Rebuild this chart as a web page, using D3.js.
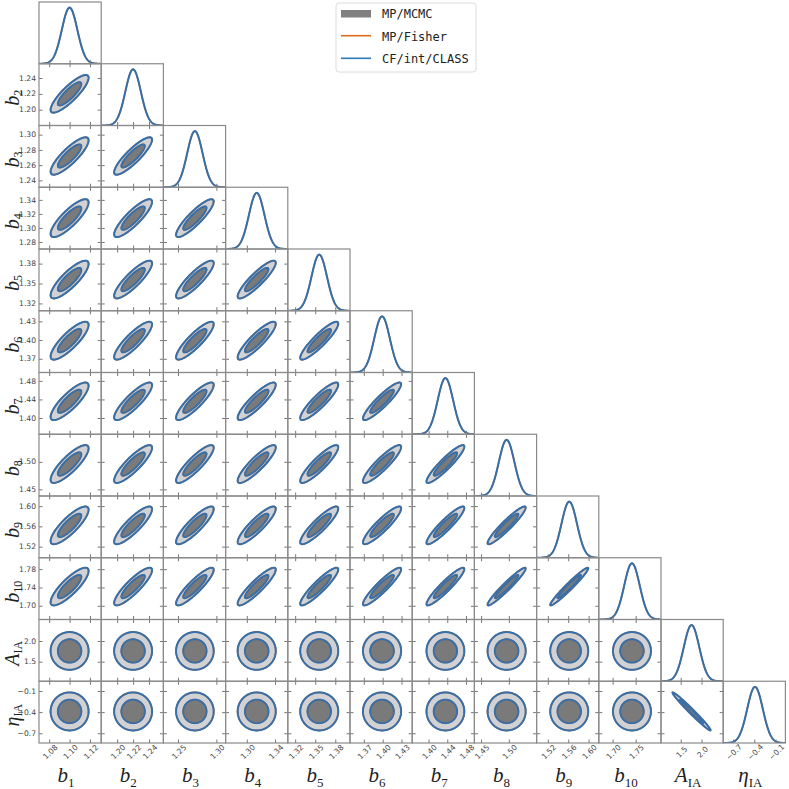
<!DOCTYPE html>
<html>
<head>
<meta charset="utf-8">
<script src="https://cdn.jsdelivr.net/npm/d3@7"></script>
<style>
  body { margin: 0; background: #fff; }
</style>
</head>
<body>
<div id="chart"></div>
<script>
// parameter names (symbol + subscript)
var symbols = ["b","b","b","b","b","b","b","b","b","b","A","\u03b7"]
var subs = ["1","2","3","4","5","6","7","8","9","10","IA","IA"]

// axis limits, means and 1-sigma widths
var lows  = [1.070, 1.180, 1.231, 1.270, 1.309, 1.348, 1.365, 1.438, 1.498, 1.670, 1.028, -0.838]
var highs = [1.131, 1.258, 1.312, 1.358, 1.402, 1.447, 1.498, 1.550, 1.620, 1.805, 2.519, 0.038]
var means = [1.100, 1.220, 1.272, 1.314, 1.356, 1.399, 1.436, 1.496, 1.562, 1.742, 1.760, -0.390]
var sigmas = [0.0076, 0.0097, 0.0100, 0.0110, 0.0116, 0.0124, 0.0165, 0.0140, 0.0152, 0.0168, 0.186, 0.110]

// tick values
var xTicks = [[1.08,1.10,1.12],[1.20,1.22,1.24],[1.25,1.30],[1.30,1.34],[1.32,1.35,1.38],
  [1.37,1.40,1.43],[1.40,1.44,1.48],[1.45,1.50],[1.52,1.56,1.60],[1.70,1.75],[1.5,2.0],[-0.7,-0.4,-0.1]]
var yTicks = [[],[1.20,1.22,1.24],[1.24,1.26,1.28,1.30],[1.28,1.30,1.32,1.34],[1.32,1.35,1.38],
  [1.37,1.40,1.43],[1.40,1.44,1.48],[1.45,1.50],[1.52,1.56,1.60],[1.70,1.74,1.78],[1.5,2.0],[-0.7,-0.4,-0.1]]
var tickFormats = [".2f",".2f",".2f",".2f",".2f",".2f",".2f",".2f",".2f",".2f",".1f",".1f"]

// correlations between the bias parameters (lower triangle, row j vs b1..b_{j-1})
var corrB = [
  [0.85],
  [0.84, 0.87],
  [0.83, 0.86, 0.88],
  [0.83, 0.86, 0.87, 0.89],
  [0.83, 0.86, 0.87, 0.88, 0.90],
  [0.83, 0.86, 0.87, 0.88, 0.89, 0.91],
  [0.83, 0.86, 0.87, 0.88, 0.89, 0.90, 0.92],
  [0.83, 0.86, 0.87, 0.88, 0.89, 0.90, 0.92, 0.94],
  [0.83, 0.87, 0.89, 0.90, 0.91, 0.92, 0.93, 0.96, 0.97]
]
var corrIA = -0.985

var legendLabels = ["MP/MCMC", "MP/Fisher", "CF/int/CLASS"]

var n = symbols.length
var marginLeft = 39, marginTop = 2, pw = 62.2, ph = 61.75
var blue = "#3670aa", orange = "#e0691b"
var lightGray = "#d2d2d4", darkGray = "#7a7a7a"
var levels = [2.45, 1.51]

function corr(i, j){
  var a = Math.max(i, j), b = Math.min(i, j)
  if(a < 10) return corrB[a-1][b]
  if(a == 11 && b == 10) return corrIA
  return 0
}

var svg = d3.select("#chart")
  .append("svg")
  .attr("width", 789)
  .attr("height", 789)

var defs = svg.append("defs")

function ellipsePoints(c, r, rad){
  var rho = corr(c, r)
  return d3.range(0, 121).map(function(k){
    var t = k / 120 * 2 * Math.PI
    return [means[c] + rad * sigmas[c] * Math.cos(t),
            means[r] + rad * sigmas[r] * (rho * Math.cos(t) + Math.sqrt(1 - rho*rho) * Math.sin(t))]
  })
}

var tickStyle = function(a){ a.select(".domain").remove(); a.selectAll("line").attr("stroke", "#777") }

for(var r = 0; r < n; r++){
  for(var c = 0; c <= r; c++){
    var g = svg.append("g")
      .attr("transform", "translate(" + (marginLeft + c*pw) + "," + (marginTop + r*ph) + ")")

    var x = d3.scaleLinear().domain([lows[c], highs[c]]).range([0, pw])
    var clipId = "clip" + r + "_" + c
    defs.append("clipPath").attr("id", clipId)
      .append("rect").attr("width", pw).attr("height", ph)
    var body = g.append("g").attr("clip-path", "url(#" + clipId + ")")

    if(c == r){
      // 1D marginal
      var y1 = d3.scaleLinear().domain([0, 1.1]).range([ph, 0])
      var xs = d3.range(0, 201).map(function(k){ return lows[c] + (highs[c]-lows[c]) * k / 200 })
      var line1 = d3.line()
        .x(function(v){ return x(v) })
        .y(function(v){ var z = (v - means[c]) / sigmas[c]; return y1(Math.exp(-0.5*z*z)) })
      body.append("path").attr("d", line1(xs))
        .attr("fill", "none").attr("stroke", orange).attr("stroke-width", 1.6)
      body.append("path").attr("d", line1(xs))
        .attr("fill", "none").attr("stroke", blue).attr("stroke-width", 2)

      g.append("g")
        .attr("transform", "translate(0," + ph + ")")
        .call(d3.axisBottom(x).tickValues(xTicks[c]).tickSize(-3.5).tickFormat(""))
        .call(tickStyle)
    } else {
      var y = d3.scaleLinear().domain([lows[r], highs[r]]).range([ph, 0])
      var line2 = d3.line()
        .x(function(p){ return x(p[0]) })
        .y(function(p){ return y(p[1]) })
        .curve(d3.curveLinearClosed)

      // MCMC filled contours
      body.append("path").attr("d", line2(ellipsePoints(c, r, levels[0]*1.04))).attr("fill", lightGray)
      body.append("path").attr("d", line2(ellipsePoints(c, r, levels[1]*1.04))).attr("fill", darkGray)
      // Fisher and CLASS line contours
      levels.forEach(function(lv){
        body.append("path").attr("d", line2(ellipsePoints(c, r, lv)))
          .attr("fill", "none").attr("stroke", orange).attr("stroke-width", 1.6)
        body.append("path").attr("d", line2(ellipsePoints(c, r, lv)))
          .attr("fill", "none").attr("stroke", blue).attr("stroke-width", 2)
      })

      g.append("g").attr("transform", "translate(0," + ph + ")")
        .call(d3.axisBottom(x).tickValues(xTicks[c]).tickSize(-3.5).tickFormat("")).call(tickStyle)
      g.append("g")
        .call(d3.axisTop(x).tickValues(xTicks[c]).tickSize(-3.5).tickFormat("")).call(tickStyle)
      g.append("g")
        .call(d3.axisLeft(y).tickValues(yTicks[r]).tickSize(-3.5).tickFormat("")).call(tickStyle)
      g.append("g").attr("transform", "translate(" + pw + ",0)")
        .call(d3.axisRight(y).tickValues(yTicks[r]).tickSize(-3.5).tickFormat("")).call(tickStyle)

      if(c == 0){
        g.selectAll(".ylab")
          .data(yTicks[r])
          .enter()
          .append("text")
          .attr("x", -3)
          .attr("y", function(d){ return y(d) })
          .attr("dy", "0.35em")
          .attr("text-anchor", "end")
          .attr("font-family", "DejaVu Sans")
          .attr("font-size", 7.6)
          .attr("fill", "#444")
          .text(d3.format(tickFormats[r]))
      }
    }

    g.append("rect")
      .attr("width", pw).attr("height", ph)
      .attr("fill", "none").attr("stroke", "#8a8a8a").attr("stroke-width", 1.2)

    if(r == n - 1){
      g.selectAll(".xlab")
        .data(xTicks[c])
        .enter()
        .append("text")
        .attr("transform", function(d){ return "translate(" + (x(d) + 1) + "," + (ph + 9) + ") rotate(-45)" })
        .attr("dy", "0.35em")
        .attr("text-anchor", "middle")
        .attr("font-family", "DejaVu Sans")
        .attr("font-size", 7.6)
        .attr("fill", "#444")
        .text(d3.format(tickFormats[c]))
    }
  }
}

// parameter labels
function addLabel(sel, i, subSize, shift){
  sel.append("tspan").attr("font-style", "italic").text(symbols[i])
  sel.append("tspan").attr("font-style", "normal").attr("font-size", subSize).attr("dy", shift).text(subs[i])
}

for(var i = 0; i < n; i++){
  var bl = svg.append("text")
    .attr("x", marginLeft + (i + 0.5)*pw - 4)
    .attr("y", 782)
    .attr("text-anchor", "middle")
    .attr("font-family", "Liberation Serif")
    .attr("font-size", 21)
    .attr("fill", "#222")
  addLabel(bl, i, 13, 5)

  if(i > 0){
    var ll = svg.append("text")
      .attr("transform", "translate(18.5," + (marginTop + (i + 0.5)*ph + 3) + ") rotate(-90)")
      .attr("text-anchor", "middle")
      .attr("font-family", "Liberation Serif")
      .attr("font-size", 20)
      .attr("fill", "#222")
    addLabel(ll, i, 12, 3.5)
  }
}

// legend
var leg = svg.append("g")
leg.append("rect")
  .attr("x", 336).attr("y", 3).attr("width", 140).attr("height", 69).attr("rx", 3)
  .attr("fill", "#fff").attr("stroke", "#dcdcdc")
leg.append("rect")
  .attr("x", 341).attr("y", 10).attr("width", 30).attr("height", 7.5).attr("fill", "#808080")
leg.append("line")
  .attr("x1", 341).attr("x2", 371).attr("y1", 35.7).attr("y2", 35.7)
  .attr("stroke", orange).attr("stroke-width", 1.6)
leg.append("line")
  .attr("x1", 341).attr("x2", 371).attr("y1", 58.3).attr("y2", 58.3)
  .attr("stroke", "#2a78b6").attr("stroke-width", 1.6)
leg.selectAll(".lt")
  .data(legendLabels)
  .enter()
  .append("text")
  .attr("x", 382)
  .attr("y", function(d, k){ return 18 + k*22.6 })
  .attr("font-family", "DejaVu Sans Mono")
  .attr("font-size", 12)
  .attr("fill", "#222")
  .text(function(d){ return d })
</script>
</body>
</html>
